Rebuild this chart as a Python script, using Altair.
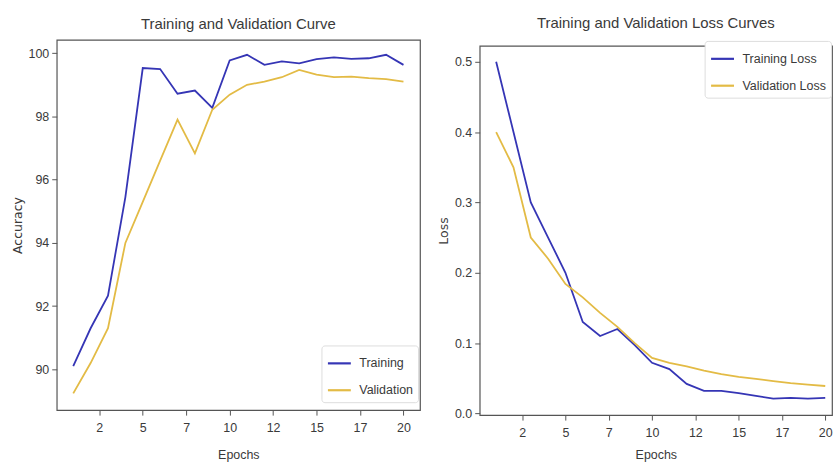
import altair as alt
import pandas as pd

epochs = list(range(1, 21))
train_acc = [90.10, 91.30, 92.33, 95.45, 99.53, 99.50, 98.72, 98.82, 98.27, 99.77,
             99.95, 99.63, 99.74, 99.68, 99.81, 99.87, 99.82, 99.84, 99.95, 99.63]
val_acc = [89.24, 90.20, 91.30, 94.00, 95.30, 96.60, 97.90, 96.83, 98.21, 98.69,
           99.00, 99.10, 99.24, 99.47, 99.32, 99.24, 99.26, 99.21, 99.18, 99.10]
train_loss = [0.50, 0.40, 0.30, 0.25, 0.20, 0.13, 0.11, 0.12, 0.097, 0.072,
              0.063, 0.042, 0.032, 0.032, 0.029, 0.025, 0.021, 0.022, 0.021, 0.022]
val_loss = [0.40, 0.35, 0.25, 0.22, 0.184, 0.165, 0.143, 0.123, 0.100, 0.079,
            0.072, 0.067, 0.061, 0.056, 0.052, 0.049, 0.046, 0.043, 0.041, 0.039]

acc_series = ["Training", "Validation"]
loss_series = ["Training Loss", "Validation Loss"]
x_ticks = [2.5, 5, 7.5, 10, 12.5, 15, 17.5, 20]
acc_ticks = [90, 92, 94, 96, 98, 100]
loss_ticks = [0.0, 0.1, 0.2, 0.3, 0.4, 0.5]

BLUE = "#3535b5"
GOLD = "#e3bb45"
FONT = "Liberation Sans"
TXT = "#3a3a3a"

df_acc = pd.DataFrame({
    "epoch": epochs * 2,
    "value": train_acc + val_acc,
    "series": [acc_series[0]] * 20 + [acc_series[1]] * 20,
})
df_loss = pd.DataFrame({
    "epoch": epochs * 2,
    "value": train_loss + val_loss,
    "series": [loss_series[0]] * 20 + [loss_series[1]] * 20,
})


def x_axis(tpad):
    return alt.Axis(values=x_ticks, labelExpr="floor(datum.value)", title="Epochs",
                    domain=False, grid=False, tickSize=5, tickColor="#555",
                    labelFont=FONT, labelFontSize=12.5, labelColor=TXT, labelPadding=6,
                    titleFont=FONT, titleFontSize=12.5, titleFontWeight="normal",
                    titleColor=TXT, titlePadding=tpad)


def y_axis(vals, title, fmt):
    return alt.Axis(values=vals, title=title, format=fmt, domain=False, grid=False,
                    tickSize=5, tickColor="#555", labelFont=FONT, labelFontSize=12.5,
                    labelColor=TXT, labelPadding=3, titleFont="DejaVu Sans",
                    titleFontSize=12.5, titleFontWeight="normal", titleColor=TXT,
                    titlePadding=4)


def legend(lx, ly):
    return alt.Legend(title=None, orient="none", legendX=lx, legendY=ly,
                      fillColor="white", strokeColor="#dddddd", cornerRadius=3,
                      padding=5, symbolType="stroke", symbolSize=530,
                      symbolStrokeWidth=2.2, labelFont=FONT, labelFontSize=12.5,
                      labelColor=TXT, rowPadding=7, labelOffset=7)


def title(text, off):
    return alt.TitleParams(text, font=FONT, fontSize=15, fontWeight="normal",
                           color=TXT, offset=off)


left = alt.Chart(df_acc).mark_line(strokeWidth=1.8).encode(
    x=alt.X("epoch:Q", scale=alt.Scale(domain=[0.05, 20.95], nice=False, zero=False),
            axis=x_axis(15)),
    y=alt.Y("value:Q", scale=alt.Scale(domain=[88.71, 100.42], nice=False, zero=False),
            axis=y_axis(acc_ticks, "Accuracy", "d")),
    color=alt.Color("series:N", scale=alt.Scale(domain=acc_series, range=[BLUE, GOLD]),
                    legend=legend(266, 307)),
).properties(
    width=365, height=372,
    title=title("Training and Validation Curve", 8),
)

# thin invisible strip that carries the right-hand title and lowers that panel a little
spacer = alt.Chart(pd.DataFrame({"a": [0]})).mark_point(opacity=0).encode(
    x=alt.value(0), y=alt.value(0)
).properties(
    width=354, height=1,
    title=title("Training and Validation Loss Curves", 6),
    view=alt.ViewBackground(stroke=None),
)

right = alt.Chart(df_loss).mark_line(strokeWidth=1.8).encode(
    x=alt.X("epoch:Q", scale=alt.Scale(domain=[0.05, 20.39], nice=False, zero=False),
            axis=x_axis(10)),
    y=alt.Y("value:Q", scale=alt.Scale(domain=[-0.0024, 0.5225], nice=False, zero=False),
            axis=y_axis(loss_ticks, "Loss", ".1f")),
    color=alt.Color("series:N", scale=alt.Scale(domain=loss_series, range=[BLUE, GOLD]),
                    legend=legend(226, 1)),
).properties(width=354, height=371)

right_col = alt.vconcat(spacer, right, spacing=2)

chart = alt.hconcat(left, right_col, spacing=16).resolve_scale(color="independent").properties(
    padding={"left": 10, "top": 15, "right": 0, "bottom": 0},
    background="white",
).configure_view(stroke="#555555", strokeWidth=1.2)

chart.save("out.html", embed_options={"renderer": "svg", "actions": False})
